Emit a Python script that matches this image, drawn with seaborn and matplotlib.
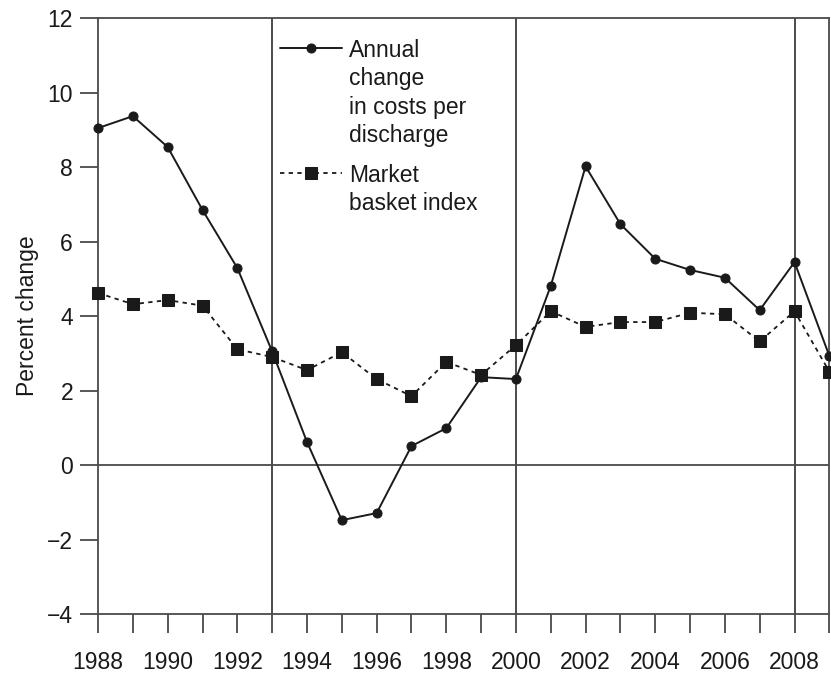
import matplotlib
matplotlib.use("Agg")
import matplotlib.pyplot as plt
import seaborn as sns
import pandas as pd

# Annual percent change, 1988-2009
years = list(range(1988, 2010))
cost_per_discharge = [9.05, 9.37, 8.54, 6.85, 5.29, 3.05, 0.62, -1.48, -1.29, 0.51,
                      0.99, 2.36, 2.31, 4.81, 8.02, 6.47, 5.54, 5.24, 5.03, 4.16,
                      5.45, 2.93]
market_basket = [4.62, 4.32, 4.43, 4.28, 3.11, 2.90, 2.55, 3.03, 2.31, 1.85,
                 2.77, 2.42, 3.22, 4.13, 3.71, 3.84, 3.84, 4.09, 4.05, 3.32,
                 4.13, 2.51]
reference_years = [1993, 2000, 2008]
y_ticks = [-4, -2, 0, 2, 4, 6, 8, 10, 12]
x_label_years = list(range(1988, 2009, 2))

label_cost = "Annual\nchange\nin costs per\ndischarge"
label_basket = "Market\nbasket index"

df = pd.DataFrame({"year": years, "cost": cost_per_discharge, "basket": market_basket})

sns.set_style("white")
plt.rcParams["font.family"] = ["Liberation Sans", "DejaVu Sans"]
plt.rcParams["axes.unicode_minus"] = True

ink = "#1a1a1a"
axis_col = "#4a4a4a"
fs = 16.5

fig = plt.figure(figsize=(8.31, 6.74), dpi=100)
ax = fig.add_axes([0.118, 0.089, 0.880, 0.884])

for yr in reference_years:
    ax.axvline(yr, color=ink, lw=1.1, zorder=1)
ax.axhline(0, color=axis_col, lw=1.3, zorder=1)

sns.lineplot(data=df, x="year", y="cost", ax=ax, color=ink, lw=1.4,
             marker="o", markersize=6.5, markeredgecolor=ink, label=label_cost,
             clip_on=False, zorder=4)
sns.lineplot(data=df, x="year", y="basket", ax=ax, color=ink, lw=1.3,
             marker="s", markersize=8.2, markeredgecolor=ink, label=label_basket,
             clip_on=False, zorder=3)
ax.get_lines()[-1].set_dashes((2.4, 2.4))

ax.set_xlim(1988, 2009)
ax.set_ylim(-4, 12)
ax.set_yticks(y_ticks)
ax.set_xticks(years, minor=True)
ax.set_xticks(x_label_years)
ax.set_xticklabels([str(y) for y in x_label_years])
ax.tick_params(axis="x", which="both", direction="out", length=13.5, width=1.3,
               color=axis_col, bottom=True)
ax.tick_params(axis="x", which="major", labelsize=fs, pad=13, labelcolor=ink)
ax.tick_params(axis="y", which="major", direction="out", length=13, width=1.3,
               color=axis_col, left=True, labelsize=fs, pad=5, labelcolor=ink)
for side in ["left", "right", "top", "bottom"]:
    ax.spines[side].set_visible(True)
    ax.spines[side].set_color(axis_col)
    ax.spines[side].set_linewidth(1.3)

ax.set_xlabel("")
ax.set_ylabel("Percent change", fontsize=fs, color=ink, labelpad=6)

leg = ax.legend(loc="upper left", bbox_to_anchor=(0.249, 0.965), frameon=False,
                fontsize=fs, borderpad=0, borderaxespad=0, handlelength=2.7,
                handletextpad=0.3, handleheight=1.0, labelspacing=0.72)
for t in leg.get_texts():
    t.set_linespacing(1.3)
    t.set_color(ink)
for col in leg._legend_handle_box.get_children():
    for row in col.get_children():
        row.align = "top"

fig.savefig("out.png", dpi=100)
